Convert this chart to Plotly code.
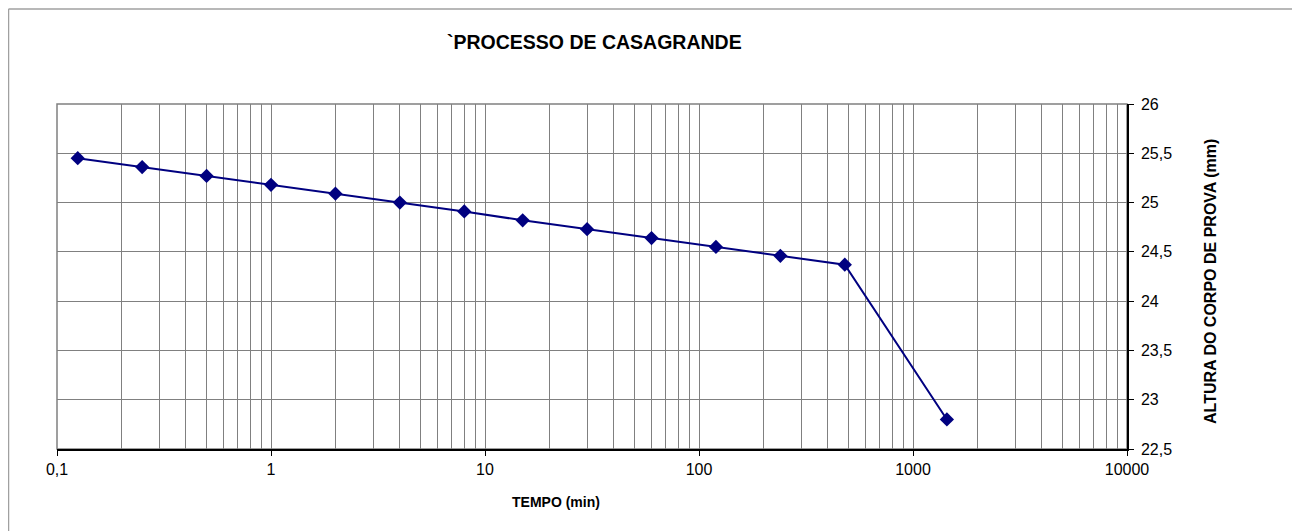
import plotly.graph_objects as go

# Data
tempo_min = [0.125, 0.25, 0.5, 1, 2, 4, 8, 15, 30, 60, 120, 240, 480, 1440]
altura_mm = [25.45, 25.36, 25.27, 25.18, 25.09, 25.00, 24.91, 24.82, 24.73, 24.64, 24.55, 24.46, 24.37, 22.80]

x_tickvals = [0.1, 1, 10, 100, 1000, 10000]
x_ticktext = ["0,1", "1", "10", "100", "1000", "10000"]
x_minorvals = [m * d for d in [0.1, 1, 10, 100, 1000] for m in range(2, 10)]

y_tickvals = [22.5, 23, 23.5, 24, 24.5, 25, 25.5, 26]
y_ticktext = ["22,5", "23", "23,5", "24", "24,5", "25", "25,5", "26"]

title_text = "`PROCESSO DE CASAGRANDE"
x_title = "TEMPO (min)"
y_title = "ALTURA DO CORPO DE PROVA (mm)"

FONT = "Arial, Liberation Sans, sans-serif"
GRID = "#808080"

W, H = 1300, 531
L, T = 49, 96
pw, ph = 1070, 345
R, B = W - L - pw, H - T - ph


def px(x):
    return (x - L) / pw


def py(y):
    return (T + ph - y) / ph


fig = go.Figure()
fig.add_trace(go.Scatter(
    x=tempo_min, y=altura_mm, mode="lines+markers",
    line=dict(color="#000080", width=2),
    marker=dict(symbol="diamond", size=11, color="#000080"),
    showlegend=False,
))

fig.update_layout(
    width=W, height=H,
    margin=dict(l=L, r=R, t=T, b=B, autoexpand=False),
    paper_bgcolor="white", plot_bgcolor="white",
    font=dict(family=FONT, size=16, color="black"),
    separators=",.",
    xaxis=dict(
        type="log", range=[-1, 4],
        tickvals=x_tickvals, ticktext=x_ticktext,
        ticks="outside", ticklen=5, tickcolor="black",
        showgrid=True, gridcolor=GRID, gridwidth=1,
        showline=True, linecolor="black", linewidth=1.5,
        zeroline=False,
        minor=dict(tickvals=x_minorvals, showgrid=True, gridcolor=GRID,
                   gridwidth=1, ticks=""),
        tickfont=dict(size=16),
    ),
    yaxis=dict(
        side="right", range=[22.5, 26],
        tickvals=y_tickvals, ticktext=y_ticktext,
        ticks="outside", ticklen=5, tickcolor="black",
        showgrid=True, gridcolor=GRID, gridwidth=1,
        showline=True, linecolor="black", linewidth=1.5,
        zeroline=False,
        ticklabelstandoff=4,
        tickfont=dict(size=16),
    ),
    shapes=[
        # plot area border (grey, left/top)
        dict(type="rect", xref="paper", yref="paper", x0=0, y0=0, x1=1, y1=1,
             line=dict(color=GRID, width=1.5), layer="below"),
        # outer chart border
        dict(type="line", xref="paper", yref="paper",
             x0=px(0.5), y0=py(1), x1=px(W + 5), y1=py(1),
             line=dict(color="#a0a0a0", width=1.5)),
        dict(type="line", xref="paper", yref="paper",
             x0=px(0.5), y0=py(1), x1=px(0.5), y1=py(H + 5),
             line=dict(color="#a0a0a0", width=1.5)),
    ],
    annotations=[
        dict(text=f"<b>{title_text}</b>", xref="paper", yref="paper",
             x=px(586), y=py(34), xanchor="center", yanchor="middle",
             showarrow=False, font=dict(size=19.5, family=FONT)),
        dict(text=f"<b>{x_title}</b>", xref="paper", yref="paper",
             x=px(548), y=py(494), xanchor="center", yanchor="middle",
             showarrow=False, font=dict(size=14, family=FONT)),
        dict(text=f"<b>{y_title}</b>", xref="paper", yref="paper",
             x=px(1202), y=py(274), xanchor="center", yanchor="middle",
             textangle=-90, showarrow=False, font=dict(size=16, family=FONT)),
    ],
)

fig.write_html("out.html")
